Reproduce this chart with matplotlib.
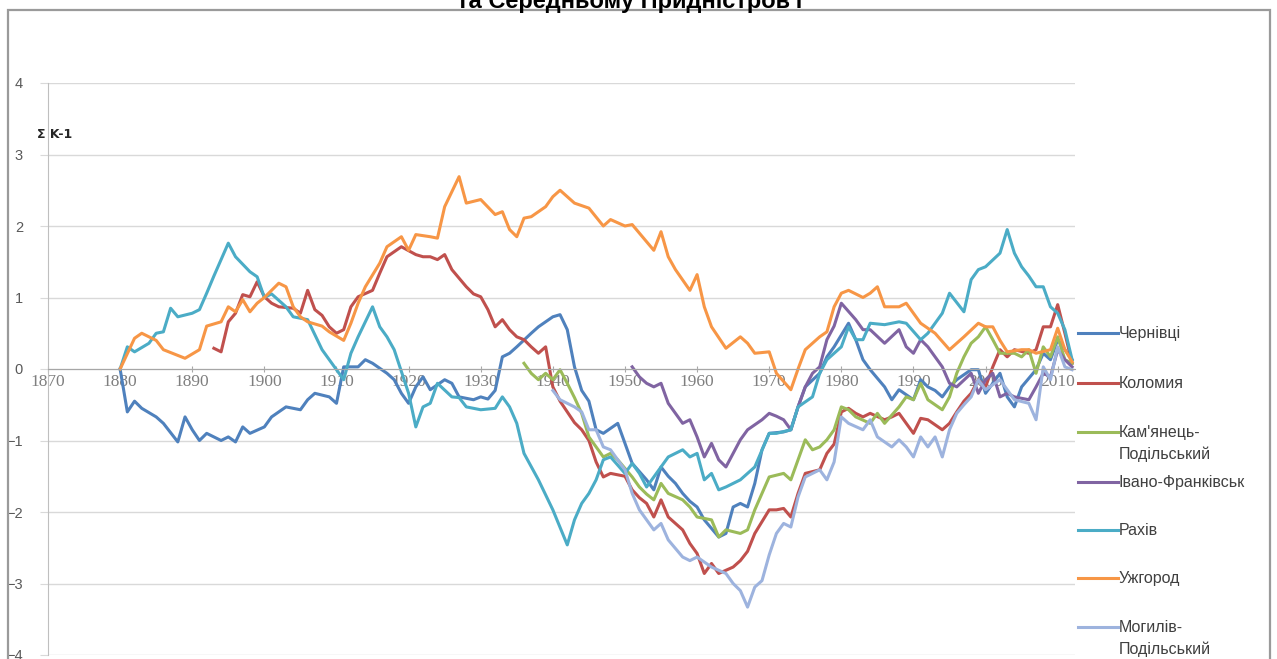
"""
Сумарні різницеві криві модульних коефіцієнтів (Σ K-1)
"""
import matplotlib
matplotlib.use("Agg")
import matplotlib.pyplot as plt
from matplotlib.patches import Rectangle
from matplotlib.lines import Line2D

# --- data ---
chernivtsi_years = [1880, 1881, 1882, 1883, 1885, 1886, 1888, 1889, 1890, 1891, 1892, 1894, 1895,
                    1896, 1897, 1898, 1900, 1901, 1903, 1905, 1906, 1907, 1909, 1910, 1911, 1913,
                    1914, 1915, 1917, 1918, 1919, 1920, 1921, 1922, 1923, 1925, 1926, 1927, 1929,
                    1930, 1931, 1932, 1933, 1934, 1935, 1937, 1938, 1940, 1941, 1942, 1943, 1944,
                    1945, 1946, 1947, 1949, 1950, 1951, 1953, 1954, 1955, 1956, 1957, 1958, 1959,
                    1960, 1961, 1963, 1964, 1965, 1966, 1967, 1968, 1969, 1970, 1972, 1973, 1974,
                    1975, 1977, 1978, 1979, 1981, 1982, 1983, 1984, 1986, 1987, 1988, 1990, 1991,
                    1992, 1993, 1994, 1995, 1996, 1998, 1999, 2000, 2002, 2003, 2004, 2005, 2007,
                    2008, 2009, 2010, 2011, 2012]
chernivtsi = [0.0, -0.6, -0.45, -0.55, -0.67, -0.76, -1.02, -0.67, -0.85, -1.0, -0.9, -1.0, -0.95,
              -1.02, -0.81, -0.9, -0.81, -0.67, -0.53, -0.57, -0.43, -0.34, -0.39, -0.48, 0.03, 0.03,
              0.13, 0.08, -0.06, -0.15, -0.34, -0.48, -0.25, -0.11, -0.29, -0.15, -0.2, -0.39, -0.43,
              -0.39, -0.42, -0.3, 0.17, 0.22, 0.31, 0.5, 0.59, 0.73, 0.76, 0.55, 0.03, -0.3,
              -0.45, -0.85, -0.9, -0.76, -1.04, -1.32, -1.55, -1.69, -1.37, -1.5, -1.6, -1.74, -1.85,
              -1.93, -2.11, -2.35, -2.3, -1.93, -1.88, -1.93, -1.6, -1.13, -0.9, -0.88, -0.85, -0.53,
              -0.25, -0.06, 0.17, 0.31, 0.64, 0.41, 0.13, -0.01, -0.25, -0.43, -0.29, -0.43, -0.15,
              -0.25, -0.3, -0.39, -0.25, -0.15, -0.01, -0.01, -0.34, -0.06, -0.39, -0.53, -0.25, -0.01,
              0.22, 0.13, 0.41, 0.27, 0.13]

kolomyia_years = [1893, 1894, 1895, 1896, 1897, 1898, 1899, 1900, 1901, 1902, 1904, 1905, 1906,
                  1907, 1908, 1909, 1910, 1911, 1912, 1913, 1915, 1916, 1917, 1919, 1921, 1922,
                  1923, 1924, 1925, 1926, 1928, 1929, 1930, 1931, 1932, 1933, 1934, 1935, 1936,
                  1937, 1938, 1939, 1940, 1941, 1942, 1943, 1944, 1945, 1946, 1947, 1948, 1950,
                  1951, 1952, 1953, 1954, 1955, 1956, 1958, 1959, 1960, 1961, 1962, 1963, 1965,
                  1966, 1967, 1968, 1970, 1971, 1972, 1973, 1974, 1975, 1977, 1978, 1979, 1980,
                  1981, 1982, 1983, 1984, 1986, 1987, 1988, 1990, 1991, 1992, 1994, 1995, 1996,
                  1997, 1998, 1999, 2000, 2001, 2002, 2003, 2004, 2006, 2007, 2008, 2009, 2010,
                  2011, 2012]
kolomyia = [0.29, 0.24, 0.66, 0.78, 1.04, 1.01, 1.22, 1.01, 0.92, 0.87, 0.85, 0.78, 1.1,
            0.83, 0.75, 0.59, 0.5, 0.55, 0.87, 1.01, 1.1, 1.34, 1.57, 1.71, 1.6, 1.57,
            1.57, 1.53, 1.6, 1.39, 1.15, 1.05, 1.01, 0.83, 0.59, 0.69, 0.55, 0.45, 0.41,
            0.31, 0.22, 0.31, -0.25, -0.45, -0.6, -0.75, -0.85, -1.0, -1.3, -1.51, -1.46, -1.5,
            -1.69, -1.8, -1.88, -2.07, -1.83, -2.07, -2.25, -2.44, -2.58, -2.86, -2.72, -2.86, -2.77,
            -2.68, -2.55, -2.3, -1.97, -1.97, -1.95, -2.07, -1.74, -1.46, -1.41, -1.18, -1.05, -0.6,
            -0.55, -0.62, -0.67, -0.62, -0.71, -0.67, -0.62, -0.9, -0.69, -0.71, -0.85, -0.76, -0.6,
            -0.45, -0.34, -0.15, -0.25, 0.03, 0.27, 0.17, 0.27, 0.22, 0.27, 0.59, 0.59, 0.9,
            0.5, 0.08]

kamianets_years = [1936, 1937, 1938, 1939, 1940, 1941, 1942, 1943, 1944, 1945, 1947, 1948, 1949,
                   1951, 1952, 1953, 1954, 1955, 1956, 1958, 1959, 1960, 1962, 1963, 1964, 1966,
                   1967, 1968, 1969, 1970, 1972, 1973, 1974, 1975, 1976, 1977, 1978, 1979, 1980,
                   1981, 1982, 1984, 1985, 1986, 1988, 1989, 1990, 1991, 1992, 1994, 1995, 1996,
                   1997, 1998, 1999, 2000, 2001, 2002, 2004, 2005, 2006, 2007, 2008, 2009, 2010,
                   2011, 2012]
kamianets = [0.08, -0.06, -0.15, -0.06, -0.15, -0.01, -0.2, -0.4, -0.62, -0.95, -1.23, -1.18, -1.27,
             -1.51, -1.65, -1.75, -1.83, -1.6, -1.74, -1.83, -1.93, -2.07, -2.11, -2.35, -2.25, -2.3,
             -2.25, -1.97, -1.74, -1.51, -1.46, -1.55, -1.27, -0.99, -1.13, -1.09, -0.99, -0.85, -0.53,
             -0.57, -0.67, -0.76, -0.62, -0.76, -0.53, -0.39, -0.43, -0.2, -0.43, -0.57, -0.39, -0.06,
             0.17, 0.36, 0.45, 0.59, 0.41, 0.22, 0.22, 0.17, 0.27, -0.06, 0.31, 0.17, 0.45,
             0.13, 0.08]

ivano_years = [1951, 1952, 1953, 1954, 1955, 1956, 1958, 1959, 1960, 1961, 1962, 1963, 1964,
               1965, 1966, 1967, 1969, 1970, 1971, 1972, 1973, 1974, 1975, 1976, 1977, 1978,
               1979, 1980, 1982, 1983, 1984, 1986, 1988, 1989, 1990, 1991, 1992, 1994, 1995,
               1996, 1998, 1999, 2000, 2001, 2002, 2003, 2004, 2006, 2007, 2008, 2009, 2010,
               2011, 2012]
ivano = [0.03, -0.11, -0.2, -0.25, -0.2, -0.48, -0.76, -0.71, -0.95, -1.23, -1.04, -1.27, -1.37,
         -1.18, -0.99, -0.85, -0.71, -0.62, -0.66, -0.71, -0.85, -0.53, -0.25, -0.06, 0.03, 0.41,
         0.6, 0.92, 0.69, 0.55, 0.55, 0.36, 0.55, 0.31, 0.22, 0.41, 0.31, 0.03, -0.2,
         -0.25, -0.06, -0.34, -0.15, -0.06, -0.39, -0.34, -0.39, -0.43, -0.25, -0.06, -0.11, 0.27,
         0.13, 0.03]

rakhiv_years = [1880, 1881, 1882, 1884, 1885, 1886, 1887, 1888, 1890, 1891, 1892, 1893, 1895,
                1896, 1898, 1899, 1900, 1901, 1903, 1904, 1906, 1908, 1909, 1911, 1912, 1913,
                1915, 1916, 1917, 1918, 1920, 1921, 1922, 1923, 1924, 1926, 1927, 1928, 1930,
                1932, 1933, 1934, 1935, 1936, 1938, 1940, 1942, 1943, 1944, 1945, 1946, 1947,
                1948, 1950, 1951, 1952, 1953, 1955, 1956, 1958, 1959, 1960, 1961, 1962, 1963,
                1964, 1966, 1967, 1968, 1970, 1971, 1973, 1974, 1976, 1977, 1978, 1980, 1981,
                1982, 1983, 1984, 1986, 1988, 1989, 1991, 1992, 1994, 1995, 1997, 1998, 1999,
                2000, 2002, 2003, 2004, 2005, 2006, 2007, 2008, 2009, 2010, 2011, 2012]
rakhiv = [0.0, 0.31, 0.24, 0.36, 0.5, 0.52, 0.85, 0.73, 0.78, 0.83, 1.06, 1.3, 1.76,
          1.57, 1.36, 1.29, 1.0, 1.05, 0.87, 0.73, 0.69, 0.27, 0.13, -0.15, 0.22, 0.45,
          0.87, 0.59, 0.45, 0.27, -0.34, -0.81, -0.53, -0.48, -0.2, -0.39, -0.4, -0.53, -0.57,
          -0.55, -0.39, -0.53, -0.76, -1.18, -1.55, -1.97, -2.46, -2.11, -1.88, -1.74, -1.55, -1.27,
          -1.23, -1.46, -1.32, -1.46, -1.65, -1.37, -1.23, -1.13, -1.23, -1.18, -1.55, -1.46, -1.69,
          -1.65, -1.55, -1.46, -1.37, -0.9, -0.9, -0.85, -0.53, -0.39, -0.06, 0.13, 0.31, 0.59,
          0.41, 0.41, 0.64, 0.62, 0.66, 0.64, 0.41, 0.5, 0.78, 1.06, 0.8, 1.25, 1.39,
          1.43, 1.62, 1.95, 1.62, 1.43, 1.3, 1.15, 1.15, 0.87, 0.78, 0.55, 0.13]

uzhhorod_years = [1880, 1882, 1883, 1885, 1886, 1889, 1891, 1892, 1894, 1895, 1896, 1897, 1898,
                  1899, 1900, 1902, 1903, 1904, 1905, 1906, 1908, 1909, 1911, 1912, 1913, 1914,
                  1916, 1917, 1919, 1920, 1921, 1923, 1924, 1925, 1927, 1928, 1930, 1932, 1933,
                  1934, 1935, 1936, 1937, 1939, 1940, 1941, 1943, 1945, 1947, 1948, 1950, 1951,
                  1954, 1955, 1956, 1957, 1959, 1960, 1961, 1962, 1964, 1966, 1967, 1968, 1970,
                  1971, 1973, 1974, 1975, 1977, 1978, 1979, 1980, 1981, 1983, 1984, 1985, 1986,
                  1988, 1989, 1991, 1993, 1995, 1997, 1999, 2000, 2001, 2002, 2003, 2005, 2006,
                  2007, 2009, 2010, 2011, 2012]
uzhhorod = [0.0, 0.43, 0.5, 0.4, 0.27, 0.15, 0.27, 0.6, 0.66, 0.87, 0.8, 0.97, 0.8,
            0.92, 1.0, 1.2, 1.15, 0.87, 0.73, 0.66, 0.6, 0.52, 0.4, 0.64, 0.92, 1.15,
            1.48, 1.71, 1.85, 1.66, 1.88, 1.85, 1.83, 2.27, 2.69, 2.32, 2.37, 2.16, 2.2,
            1.95, 1.85, 2.11, 2.13, 2.27, 2.41, 2.5, 2.32, 2.25, 2.0, 2.09, 2.0, 2.02,
            1.66, 1.92, 1.57, 1.39, 1.1, 1.32, 0.87, 0.59, 0.29, 0.45, 0.36, 0.22, 0.24,
            -0.06, -0.29, 0.0, 0.27, 0.45, 0.52, 0.87, 1.06, 1.1, 1.0, 1.06, 1.15, 0.87,
            0.87, 0.92, 0.64, 0.5, 0.27, 0.45, 0.64, 0.59, 0.59, 0.4, 0.24, 0.27, 0.27,
            0.22, 0.27, 0.57, 0.27, 0.1]

mohyliv_years = [1940, 1941, 1943, 1944, 1945, 1946, 1947, 1948, 1950, 1951, 1952, 1954, 1955,
                 1956, 1958, 1959, 1960, 1962, 1964, 1965, 1966, 1967, 1968, 1969, 1970, 1971,
                 1972, 1973, 1974, 1975, 1977, 1978, 1979, 1980, 1981, 1983, 1984, 1985, 1987,
                 1988, 1989, 1990, 1991, 1992, 1993, 1994, 1995, 1996, 1997, 1998, 1999, 2000,
                 2002, 2003, 2004, 2006, 2007, 2008, 2009, 2010, 2011, 2012]
mohyliv = [-0.3, -0.43, -0.53, -0.6, -0.85, -0.85, -1.09, -1.13, -1.41, -1.74, -1.97, -2.25, -2.16,
           -2.39, -2.63, -2.68, -2.63, -2.77, -2.86, -3.0, -3.1, -3.33, -3.05, -2.96, -2.6, -2.3,
           -2.16, -2.21, -1.79, -1.51, -1.41, -1.55, -1.3, -0.67, -0.76, -0.85, -0.71, -0.95, -1.09,
           -0.99, -1.09, -1.23, -0.95, -1.09, -0.95, -1.23, -0.85, -0.62, -0.5, -0.39, -0.15, -0.29,
           -0.15, -0.29, -0.43, -0.48, -0.71, 0.03, -0.15, 0.31, 0.03, -0.01]

labels = ["Чернівці", "Коломия", "Кам'янець-\nПодільський", "Івано-Франківськ",
          "Рахів", "Ужгород", "Могилів-\nПодільський"]
colors = ["#4F81BD", "#C0504D", "#9BBB59", "#8064A2", "#4BACC6", "#F79646", "#9DB3DE"]
series = [(chernivtsi_years, chernivtsi), (kolomyia_years, kolomyia),
          (kamianets_years, kamianets), (ivano_years, ivano),
          (rakhiv_years, rakhiv), (uzhhorod_years, uzhhorod),
          (mohyliv_years, mohyliv)]

W, H = 1277, 659
fig = plt.figure(figsize=(W / 100, H / 100), dpi=100)

# outer chart frame (Excel chart area), open at the bottom
fig.patches.append(Rectangle((8 / W, -0.05), 1262 / W, (H - 10) / H + 0.05,
                             transform=fig.transFigure, fill=False,
                             edgecolor="#9a9a9a", linewidth=1.6))

# title, cut off at the top as in the source
fig.text(630 / W, 1 - 8 / H, "та Середньому Придністров'ї", ha="center", va="baseline",
         fontsize=17, fontweight="bold", family="Liberation Sans")

ax = fig.add_axes([48 / W, 1 - 655 / H, (1075 - 48) / W, (655 - 83) / H])
for (yrs, vals), lab, col in zip(series, labels, colors):
    ax.plot(yrs, vals, color=col, lw=2.2, label=lab, solid_joinstyle="round")

ax.set_xlim(1870, 2012.4)
ax.set_ylim(-4, 4)
ax.set_xticks(range(1870, 2011, 10))
ax.set_yticks(range(-4, 5))
ax.yaxis.grid(True, color="#d9d9d9", lw=1.0)
ax.set_axisbelow(True)

for s in ["top", "right"]:
    ax.spines[s].set_visible(False)
ax.spines["left"].set_color("#bfbfbf")
ax.spines["bottom"].set_color("#a6a6a6")
ax.spines["bottom"].set_position(("data", 0))
ax.tick_params(axis="y", length=6, color="#d9d9d9", pad=12, labelsize=10.5,
               labelcolor="#595959")
ax.tick_params(axis="x", length=5, direction="inout", color="#a6a6a6", pad=1,
               labelsize=12.5, labelcolor="#7f7f7f")
for t in ax.get_xticklabels():
    t.set_family("Liberation Serif")
for t in ax.get_yticklabels():
    t.set_family("Liberation Sans")

fig.text(37 / W, 1 - 134 / H, "Σ K-1", fontsize=9, fontweight="bold",
         family="DejaVu Sans", va="center", ha="left", color="#262626")

# legend on the right, Excel style
leg_y = [333, 383, 432, 482, 530, 578, 627]
for lab, col, yy in zip(labels, colors, leg_y):
    fig.lines.append(Line2D([1078 / W, 1118 / W], [1 - yy / H, 1 - yy / H],
                            transform=fig.transFigure, color=col, lw=2.2))
    fig.text(1119 / W, 1 - (yy + 5) / H, lab.split("\n")[0], fontsize=11.5,
             family="Liberation Sans", color="#404040", va="baseline")
    if "\n" in lab:
        fig.text(1119 / W, 1 - (yy + 27) / H, lab.split("\n")[1], fontsize=11.5,
                 family="Liberation Sans", color="#404040", va="baseline")

fig.savefig("out.png", dpi=100)
